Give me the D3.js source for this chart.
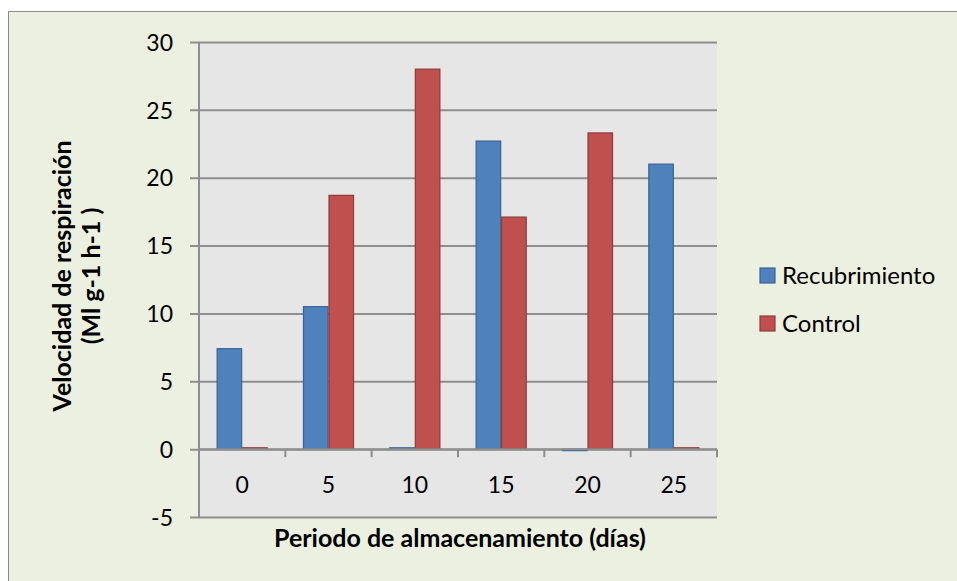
<!DOCTYPE html>
<html>
<head>
<meta charset="utf-8">
<script src="https://cdn.jsdelivr.net/npm/d3@7"></script>
<style>
  html, body { margin: 0; padding: 0; background: #fff; }
  svg { display: block; }
  text { font-family: Lato, "Open Sans", sans-serif; fill: #000; }
</style>
</head>
<body>
<svg id="chart" width="957" height="581"></svg>
<script>
// Storage period (days) and respiration rate per treatment
const categories = ["0", "5", "10", "15", "20", "25"];
const seriesNames = ["Recubrimiento", "Control"];
const recubrimiento = [7.4, 10.5, 0.1, 22.7, -0.1, 21.0];
const control = [0.1, 18.7, 28.0, 17.1, 23.3, 0.1];
const yTicks = [-5, 0, 5, 10, 15, 20, 25, 30];

const colors = ["#4F81BD", "#C0504D"];
const strokes = ["#3A6592", "#8E3B39"];

const svg = d3.select("#chart");
const W = 957, H = 581;

// chart area background and frame
svg.append("rect").attr("x", 8.5).attr("y", 11.5).attr("width", W).attr("height", H)
  .attr("fill", "#ECF0E0").attr("stroke", "#8C8C8C").attr("stroke-width", 1);

const plot = { left: 199, right: 717, top: 42, bottom: 517 };

const x = d3.scaleBand().domain(categories).range([plot.left, plot.right]).paddingInner(0).paddingOuter(0);
const xs = d3.scaleBand().domain(seriesNames).range([0, x.bandwidth()]).paddingInner(0).paddingOuter(0.69);
const y = d3.scaleLinear().domain([-5, 30]).range([plot.bottom, plot.top]);

// plot background
svg.append("rect").attr("x", plot.left).attr("y", plot.top)
  .attr("width", plot.right - plot.left).attr("height", plot.bottom - plot.top)
  .attr("fill", "#E6E6E6");

// horizontal gridlines with tick marks
const yAxis = d3.axisLeft(y).tickValues(yTicks).tickSize(plot.right - plot.left + 9).tickPadding(17)
  .tickFormat(d => String(d));
const gy = svg.append("g").attr("transform", `translate(${plot.right},0)`).call(yAxis);
gy.select(".domain").remove();
gy.selectAll(".tick line").attr("stroke", "#8E8E8E").attr("stroke-width", 2);
gy.selectAll(".tick text").attr("font-size", 23).attr("dy", "0.36em");

// vertical axis line
svg.append("line").attr("x1", plot.left).attr("x2", plot.left)
  .attr("y1", plot.top).attr("y2", plot.bottom)
  .attr("stroke", "#8E8E8E").attr("stroke-width", 2);

// bars
const data = [recubrimiento, control];
data.forEach((vals, si) => {
  svg.append("g").selectAll("rect").data(vals).join("rect")
    .attr("x", (d, i) => x(categories[i]) + xs(seriesNames[si]) + 0.5)
    .attr("width", xs.bandwidth() - 1)
    .attr("y", d => Math.min(y(d), y(0)))
    .attr("height", d => Math.max(Math.abs(y(d) - y(0)), 1.5))
    .attr("fill", colors[si])
    .attr("stroke", strokes[si])
    .attr("stroke-width", 1.2);
});

// category axis along zero
const xAxis = d3.axisBottom(x).tickSize(0).tickPadding(0);
const gx = svg.append("g").attr("transform", `translate(0,${y(0)})`).call(xAxis);
gx.select(".domain").remove();
gx.selectAll(".tick text").attr("font-size", 23).attr("y", 44).attr("dy", null);

svg.append("line").attr("x1", plot.left).attr("x2", plot.right)
  .attr("y1", y(0)).attr("y2", y(0))
  .attr("stroke", "#8E8E8E").attr("stroke-width", 2);
svg.append("g").selectAll("line").data(d3.range(1, categories.length + 1)).join("line")
  .attr("x1", i => plot.left + i * x.step()).attr("x2", i => plot.left + i * x.step())
  .attr("y1", y(0)).attr("y2", y(0) + 8)
  .attr("stroke", "#8E8E8E").attr("stroke-width", 2);

// axis titles
svg.append("text").attr("x", 460).attr("y", 547)
  .attr("text-anchor", "middle").attr("font-size", 25).attr("font-weight", "bold")
  .text("Periodo de almacenamiento (días)");

const yt = svg.append("text").attr("transform", "translate(0,276) rotate(-90)")
  .attr("text-anchor", "middle").attr("font-size", 25).attr("font-weight", "bold");
yt.append("tspan").attr("x", 0).attr("y", 71).text("Velocidad de respiración");
yt.append("tspan").attr("x", 0).attr("y", 100).text("(Ml g-1 h-1 )");

// legend
const lg = svg.append("g").selectAll("g").data(seriesNames).join("g")
  .attr("transform", (d, i) => `translate(760,${268 + i * 48})`);
lg.append("rect").attr("width", 15).attr("height", 15)
  .attr("fill", (d, i) => colors[i]).attr("stroke", (d, i) => strokes[i]).attr("stroke-width", 1.2);
lg.append("text").attr("x", 22).attr("y", 16).attr("font-size", 24).text(d => d);
</script>
</body>
</html>
